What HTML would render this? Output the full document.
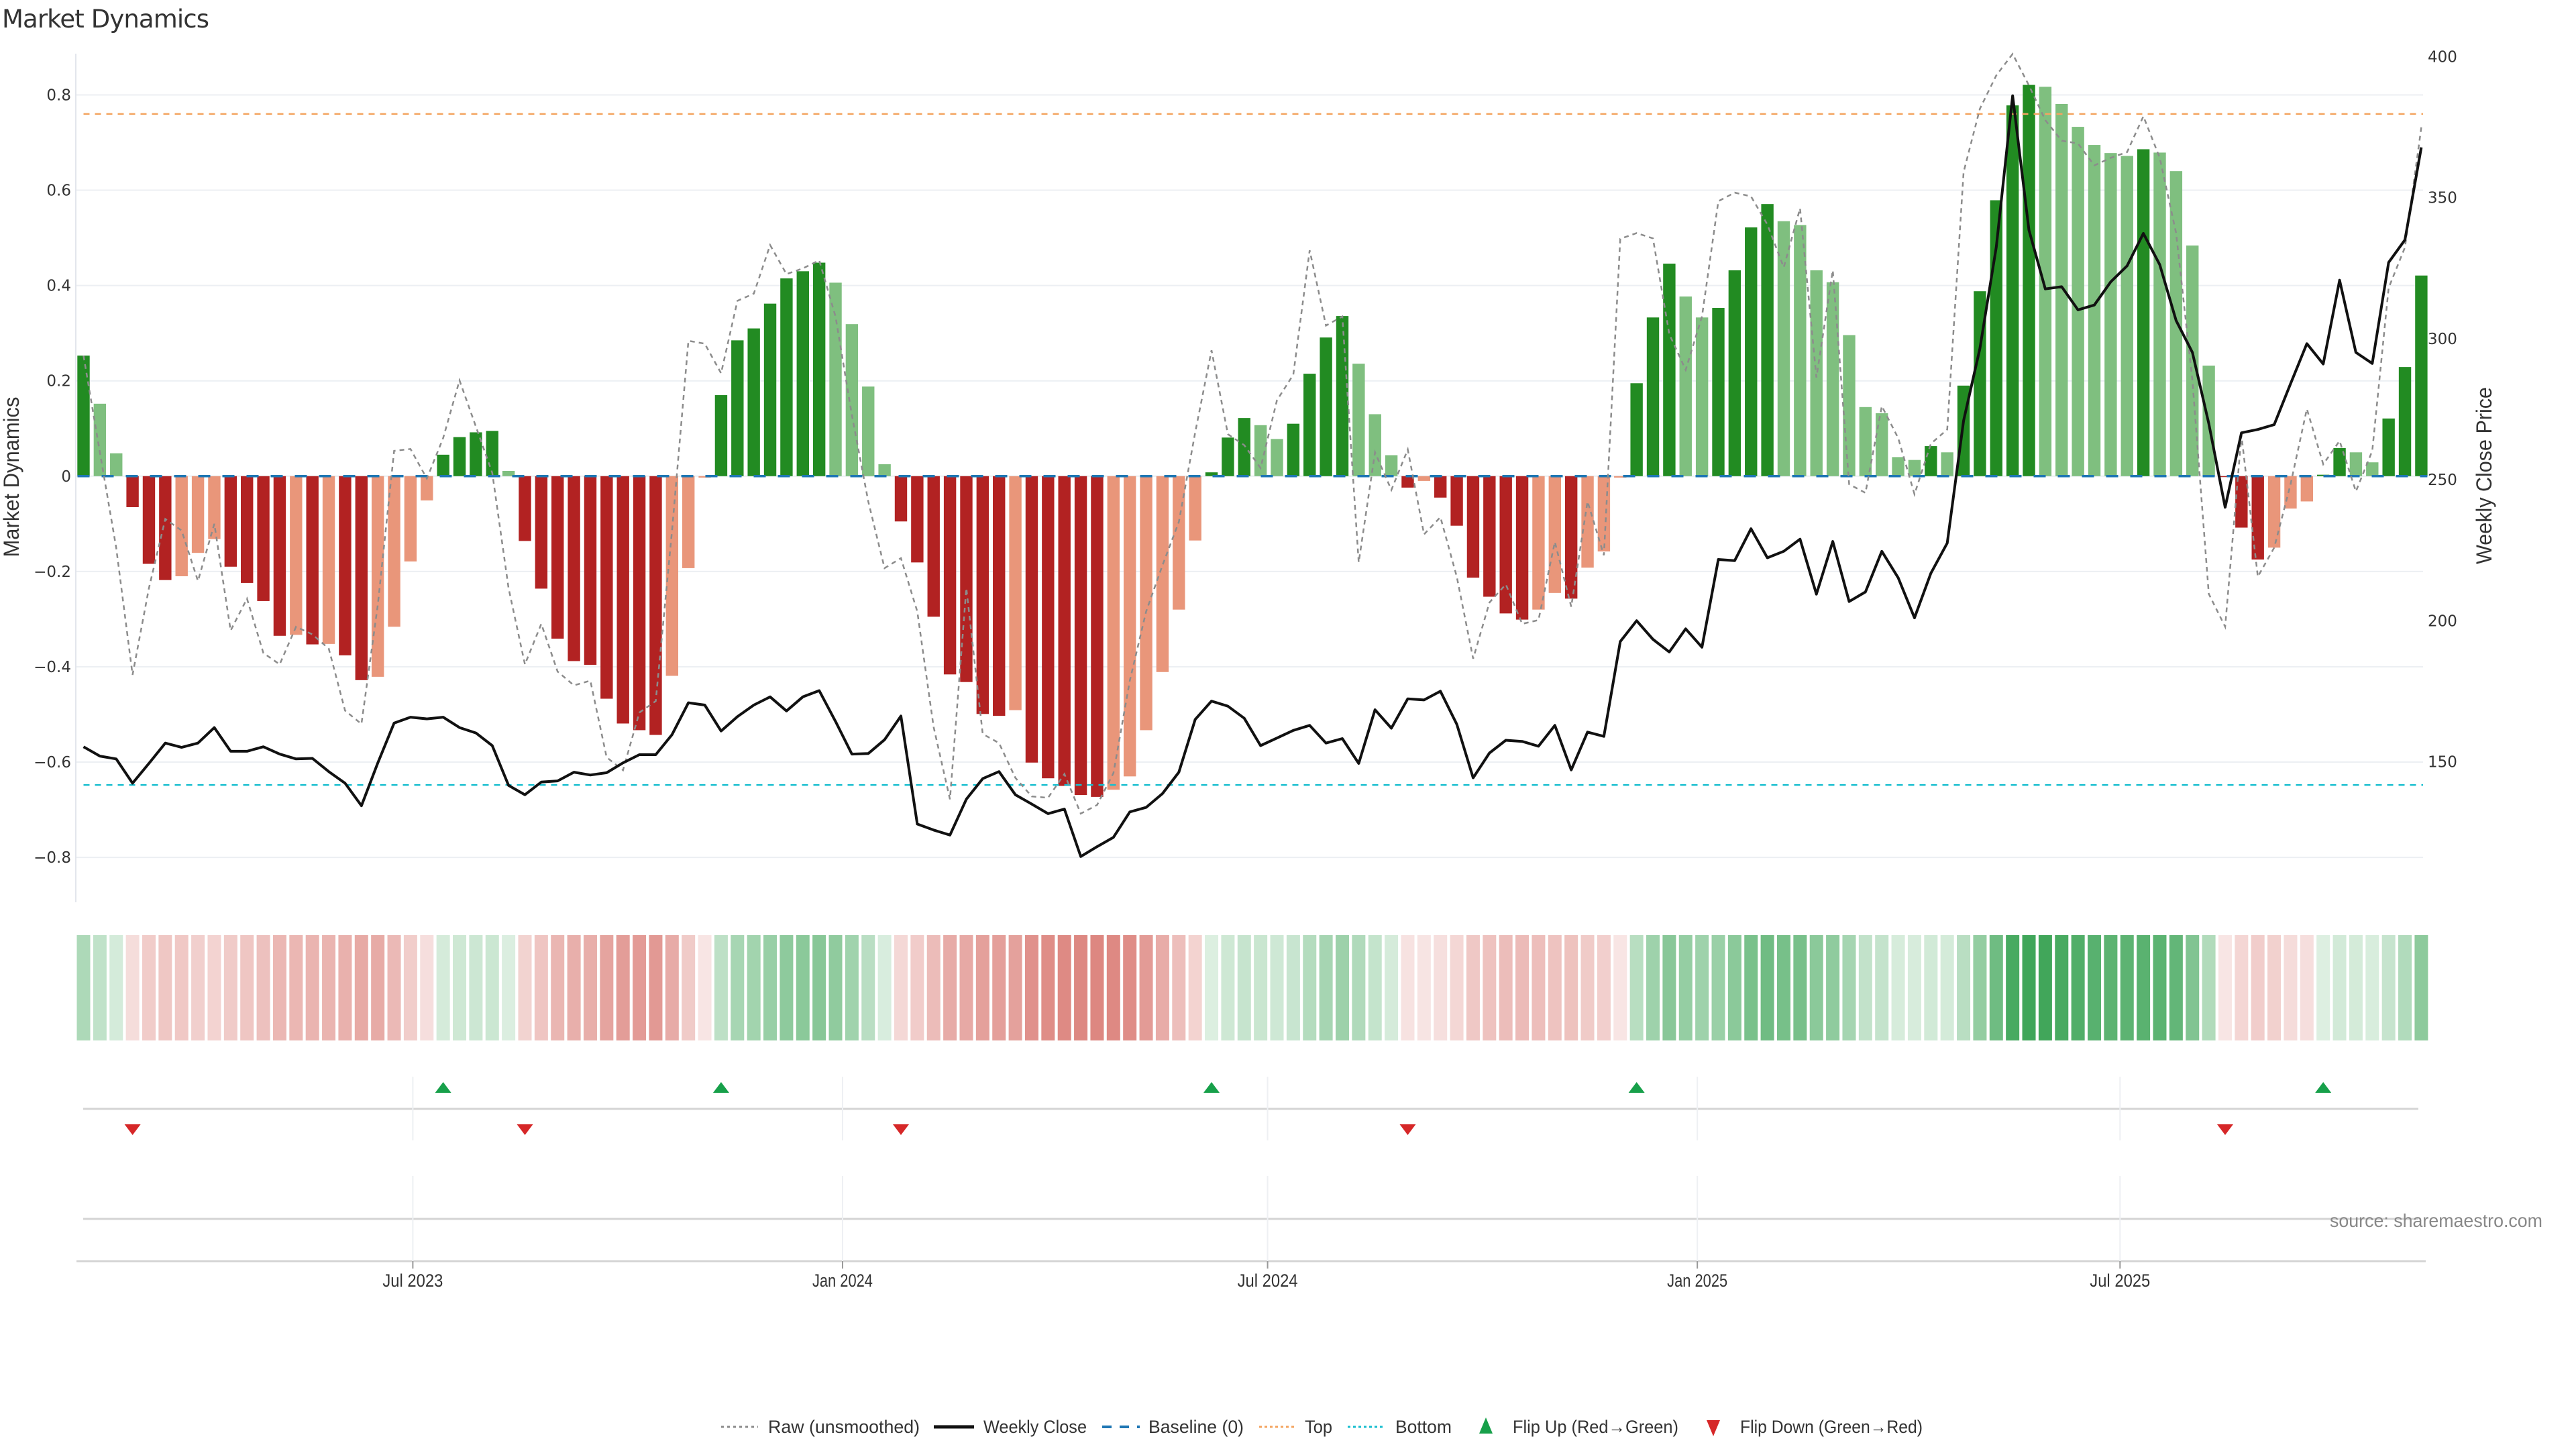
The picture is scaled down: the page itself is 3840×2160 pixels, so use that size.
<!DOCTYPE html>
<html><head><meta charset="utf-8"><title>Market Dynamics</title>
<style>html,body{margin:0;padding:0;background:#fff;}svg{display:block;}</style></head>
<body>
<svg id="chart" xmlns="http://www.w3.org/2000/svg" width="3840" height="2160" viewBox="0 0 3840 2160">
<rect x="0" y="0" width="3840" height="2160" fill="#fff"/>
<text x="3" y="41" font-family="DejaVu Sans, sans-serif" font-size="37" fill="#333" textLength="309">Market Dynamics</text>
<text transform="translate(28,711) rotate(-90)" text-anchor="middle" font-family="Liberation Sans Narrow, Liberation Sans, sans-serif" font-size="32" fill="#333" textLength="239" lengthAdjust="spacingAndGlyphs">Market Dynamics</text>
<text transform="translate(3714,709) rotate(-90)" text-anchor="middle" font-family="Liberation Sans Narrow, Liberation Sans, sans-serif" font-size="32" fill="#333" textLength="264" lengthAdjust="spacingAndGlyphs">Weekly Close Price</text>
<g id="grid"></g><g id="bars"></g><g id="lines"></g><g id="axes"></g><g id="heat"></g><g id="flips"></g><g id="legend"></g>
<text x="3790" y="1829" text-anchor="end" font-family="Liberation Sans Narrow, Liberation Sans, sans-serif" font-size="28" fill="#888" textLength="317" lengthAdjust="spacingAndGlyphs">source: sharemaestro.com</text>
</svg>
<script>
const values = [0.253,0.152,0.048,-0.065,-0.184,-0.218,-0.21,-0.161,-0.132,-0.19,-0.224,-0.262,-0.335,-0.333,-0.353,-0.352,-0.376,-0.428,-0.421,-0.316,-0.179,-0.051,0.045,0.082,0.092,0.095,0.011,-0.136,-0.236,-0.341,-0.388,-0.396,-0.467,-0.519,-0.533,-0.543,-0.419,-0.193,-0.003,0.17,0.285,0.31,0.362,0.415,0.43,0.448,0.406,0.319,0.188,0.025,-0.095,-0.181,-0.295,-0.416,-0.432,-0.499,-0.503,-0.491,-0.601,-0.634,-0.65,-0.669,-0.673,-0.658,-0.63,-0.533,-0.411,-0.28,-0.135,0.008,0.081,0.122,0.107,0.078,0.11,0.215,0.291,0.336,0.236,0.13,0.044,-0.024,-0.01,-0.045,-0.104,-0.213,-0.253,-0.288,-0.301,-0.28,-0.245,-0.257,-0.192,-0.158,-0.003,0.195,0.333,0.446,0.377,0.333,0.353,0.432,0.522,0.571,0.535,0.527,0.432,0.407,0.296,0.145,0.132,0.04,0.034,0.063,0.05,0.19,0.388,0.579,0.778,0.821,0.817,0.781,0.733,0.695,0.678,0.672,0.686,0.679,0.64,0.484,0.232,-0.002,-0.108,-0.175,-0.15,-0.068,-0.053,0.003,0.059,0.05,0.029,0.121,0.229,0.421];
const prices = [155.3,152,151,142.4,149.4,156.6,155.1,156.6,162.1,153.7,153.7,155.3,152.7,151,151.2,146.5,142.4,134.4,149.6,163.7,165.8,165.2,165.8,162.1,160.2,155.7,141.6,138.3,142.8,143.2,146.3,145.3,146.1,149.6,152.5,152.5,159.6,170.9,170.1,160.9,166,170.1,173,168,173,175.2,164.3,152.7,152.9,157.8,166.2,127.9,125.8,124,136.7,144,146.5,138.3,135,131.6,133.2,116.4,119.9,123.2,132.2,133.8,138.7,146.3,165,171.5,169.7,165.4,155.7,158.4,161.1,162.9,156.6,158.2,149.4,168.4,161.9,172.3,171.9,175,163.3,144.3,153.1,157.6,157.2,155.5,162.9,147.1,160.5,159,192.6,200,193.4,188.9,197.1,190.6,221.7,221.3,232.6,222.3,224.6,228.9,209.4,228.1,206.8,210.2,224.6,215.2,201,216.8,227.5,270.9,296.5,332.4,386.1,338.5,317.6,318.4,310.2,311.9,320.1,325.8,337.3,326.2,306.4,295.1,269.9,240.2,266.6,267.8,269.5,284,298.2,291,320.7,295.1,291.2,327,335,367.8];
const raw = [0.253,0.05,-0.15,-0.417,-0.235,-0.09,-0.114,-0.22,-0.1,-0.324,-0.257,-0.371,-0.395,-0.316,-0.332,-0.362,-0.492,-0.52,-0.27,0.053,0.057,-0.005,0.08,0.201,0.104,0.007,-0.235,-0.395,-0.31,-0.41,-0.439,-0.429,-0.59,-0.617,-0.496,-0.472,-0.114,0.284,0.278,0.216,0.368,0.383,0.485,0.424,0.436,0.453,0.335,0.128,-0.053,-0.193,-0.172,-0.284,-0.526,-0.678,-0.235,-0.541,-0.56,-0.633,-0.672,-0.675,-0.625,-0.708,-0.69,-0.623,-0.429,-0.284,-0.187,-0.096,0.092,0.264,0.088,0.065,0.017,0.159,0.213,0.474,0.316,0.335,-0.181,0.05,-0.029,0.056,-0.122,-0.086,-0.211,-0.383,-0.265,-0.227,-0.31,-0.302,-0.138,-0.274,-0.053,-0.166,0.498,0.51,0.499,0.298,0.223,0.335,0.577,0.595,0.587,0.528,0.438,0.562,0.207,0.432,-0.017,-0.035,0.147,0.08,-0.038,0.068,0.098,0.638,0.771,0.841,0.886,0.82,0.747,0.704,0.698,0.652,0.668,0.68,0.755,0.668,0.51,0.201,-0.247,-0.316,0.086,-0.211,-0.15,-0.017,0.141,0.025,0.074,-0.032,0.053,0.395,0.48,0.732];
const flipUp = [22,39,69,95,137];
const flipDown = [3,27,50,81,131];
const topLevel = 0.76;
const bottomLevel = -0.648;
const leftTicks = [0.8,0.6,0.4,0.2,0,-0.2,-0.4,-0.6,-0.8];
const leftTickLabels = ["0.8","0.6","0.4","0.2","0","\u22120.2","\u22120.4","\u22120.6","\u22120.8"];
const rightTicks = [400,350,300,250,200,150];
const xTickDates = ["2023-07-01","2024-01-01","2024-07-01","2025-01-01","2025-07-01"];
const xTickLabels = ["Jul 2023","Jan 2024","Jul 2024","Jan 2025","Jul 2025"];
const startDate = "2023-02-10";

const NS = "http://www.w3.org/2000/svg";
const X0 = 124.5, STEP = 24.37;
const xi = i => X0 + i * STEP;
const xDate = d => X0 + ((Date.parse(d) - Date.parse(startDate)) / 86400000) / 7 * STEP;
const yL = v => 709.8 - v * 710.4;
const yR = p => 715 - (p - 250) * 4.205;
function mk(tag, attrs, parent) {
  const e = document.createElementNS(NS, tag);
  for (const k in attrs) e.setAttribute(k, attrs[k]);
  parent.appendChild(e);
  return e;
}
const grid = document.getElementById('grid'), bars = document.getElementById('bars'),
      lines = document.getElementById('lines'), axes = document.getElementById('axes'),
      heat = document.getElementById('heat'), flips = document.getElementById('flips'),
      legend = document.getElementById('legend');

leftTicks.forEach((t, k) => {
  const g = mk('line', {x1:114, x2:3612, y1:yL(t), y2:yL(t), stroke:'#eceff3', 'stroke-width':2}, grid);
  
  
  const tx = mk('text', {x:106, y:yL(t)+8, 'text-anchor':'end', 'font-family':'DejaVu Sans, sans-serif', 'font-size':23, fill:'#333'}, axes);
  tx.textContent = leftTickLabels[k];
  
  
});
rightTicks.forEach(t => {
  const tx = mk('text', {x:3619, y:yR(t)+8, 'font-family':'DejaVu Sans, sans-serif', 'font-size':23, fill:'#333'}, axes);
  tx.textContent = String(t);
  
  
});
const la = mk('line', {x1:113, x2:113, y1:80, y2:1345, stroke:'#e3e6ec', 'stroke-width':2}, axes);



values.forEach((v, i) => {
  const prev = i > 0 ? values[i-1] : 0;
  let col;
  if (v >= 0) col = (v >= prev) ? '#228b22' : '#7fbf7f';
  else col = (v <= prev) ? '#b22222' : '#e9967a';
  const y0 = yL(0), y1 = yL(v);
  const b = mk('rect', {x:xi(i)-9.2, y:Math.min(y0,y1), width:18.4, height:Math.max(0.5, Math.abs(y1-y0)), fill:col}, bars);
  
  
});

const base = mk('line', {x1:xi(0)-9, x2:xi(values.length-1)+9, y1:yL(0), y2:yL(0), stroke:'#1f77b4', 'stroke-width':3.5, 'stroke-dasharray':'18 18'}, lines);


const topL = mk('line', {x1:xi(0), x2:3612, y1:yL(topLevel), y2:yL(topLevel), stroke:'#f4a460', 'stroke-width':2.5, 'stroke-dasharray':'9 8'}, lines);


const botL = mk('line', {x1:xi(0), x2:3612, y1:yL(bottomLevel), y2:yL(bottomLevel), stroke:'#17becf', 'stroke-width':2.5, 'stroke-dasharray':'9 8'}, lines);



const rp = mk('polyline', {points: raw.map((v,i)=>xi(i).toFixed(1)+','+yL(v).toFixed(1)).join(' '), fill:'none', stroke:'#8c8c8c', 'stroke-width':2.5, 'stroke-dasharray':'7 6'}, lines);


const pp = mk('polyline', {points: prices.map((p,i)=>xi(i).toFixed(1)+','+yR(p).toFixed(1)).join(' '), fill:'none', stroke:'#111', 'stroke-width':4, 'stroke-linejoin':'round'}, lines);



values.forEach((v, i) => {
  const a = v >= 0 ? Math.min(1, 0.15 + 0.85 * Math.abs(v)) : Math.min(1, 0.13 + 0.72 * Math.abs(v));
  const bc = v >= 0 ? [30,150,60] : [200,60,50];
  const c = bc.map(ch => Math.round(255 - a * (255 - ch)));
  const r = mk('rect', {x:xi(i)-10, y:1394, width:20, height:157, fill:'rgb('+c.join(',')+')'}, heat);
  
  
});

[1653, 1817].forEach(y => {
  const l = mk('line', {x1:124, x2:3605, y1:y, y2:y, stroke:'#d4d4d4', 'stroke-width':3}, flips);
  
  
});
const xa = mk('line', {x1:114, x2:3616, y1:1880, y2:1880, stroke:'#d4d4d4', 'stroke-width':3}, flips);


xTickDates.forEach((d, k) => {
  const x = xDate(d);
  [[1605,1700],[1753,1880]].forEach(seg => {
    const g = mk('line', {x1:x, x2:x, y1:seg[0], y2:seg[1], stroke:'#eef0f3', 'stroke-width':2}, flips);
    
    
  });
  const tk = mk('line', {x1:x, x2:x, y1:1880, y2:1891, stroke:'#999', 'stroke-width':2}, flips);
  
  
  const tx = mk('text', {x:x, y:1918, 'text-anchor':'middle', 'font-family':'Liberation Sans Narrow, Liberation Sans, sans-serif', 'font-size':27, fill:'#333', textLength:90, lengthAdjust:'spacingAndGlyphs'}, flips);
  tx.textContent = xTickLabels[k];
  
  
});
flipUp.forEach(i => {
  const x = xi(i);
  const t = mk('polygon', {points:(x-12)+',1629 '+(x+12)+',1629 '+x+',1613', fill:'#17a04a'}, flips);
  
  
});
flipDown.forEach(i => {
  const x = xi(i);
  const t = mk('polygon', {points:(x-12)+',1676 '+(x+12)+',1676 '+x+',1692', fill:'#d62728'}, flips);
  
  
});

const LY = 2127;
function legText(x, w, s, name) {
  const t = mk('text', {x:x, y:LY+9, 'font-family':'Liberation Sans Narrow, Liberation Sans, sans-serif', 'font-size':27, fill:'#333', textLength:w, lengthAdjust:'spacingAndGlyphs'}, legend);
  t.textContent = s;
  
  
}
function legLine(x1, x2, stroke, sw, dash, name) {
  const l = mk('line', {x1:x1, x2:x2, y1:LY, y2:LY, stroke:stroke, 'stroke-width':sw, 'stroke-dasharray':dash}, legend);
  
  
}
legLine(1075, 1130, '#8c8c8c', 3, '4 5', 'legend-raw-swatch');
legText(1145, 226, 'Raw (unsmoothed)', 'legend-raw-label');
legLine(1392, 1452, '#111', 5, 'none', 'legend-close-swatch');
legText(1466, 154, 'Weekly Close', 'legend-close-label');
legLine(1643, 1699, '#1f77b4', 4, '14 12', 'legend-baseline-swatch');
legText(1712, 142, 'Baseline (0)', 'legend-baseline-label');
legLine(1877, 1932, '#f4a460', 3, '4 4', 'legend-top-swatch');
legText(1945, 41, 'Top', 'legend-top-label');
legLine(2009, 2064, '#17becf', 3, '4 4', 'legend-bottom-swatch');
legText(2080, 84, 'Bottom', 'legend-bottom-label');
const lu = mk('polygon', {points:'2205,2137 2225,2137 2215,2113', fill:'#17a04a'}, legend);


legText(2255, 247, 'Flip Up (Red\u2192Green)', 'legend-flip-up-label');
const ld = mk('polygon', {points:'2544,2117 2564,2117 2554,2141', fill:'#d62728'}, legend);


legText(2594, 272, 'Flip Down (Green\u2192Red)', 'legend-flip-down-label');
</script>
</body></html>
